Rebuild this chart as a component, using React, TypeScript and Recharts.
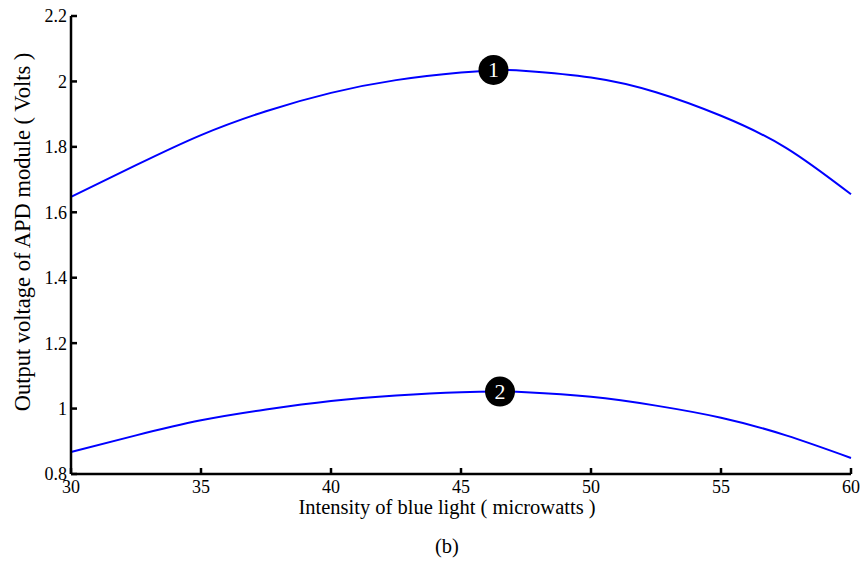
import { LineChart, Line, XAxis, YAxis, ReferenceDot, Label } from "recharts";

const intensity = [30, 32.5, 35, 37.5, 40, 42.5, 45, 46.5, 47.5, 50, 52.5, 55, 57.5, 60];
const curve1 = [1.647, 1.744, 1.836, 1.909, 1.965, 2.004, 2.027, 2.035, 2.032, 2.012, 1.967, 1.895, 1.797, 1.655];
const curve2 = [0.867, 0.918, 0.964, 0.997, 1.023, 1.04, 1.05, 1.052, 1.05, 1.036, 1.009, 0.972, 0.918, 0.849];
const xTicks = [30, 35, 40, 45, 50, 55, 60];
const yTicks = [0.8, 1, 1.2, 1.4, 1.6, 1.8, 2, 2.2];
const markers = [
  { x: 46.25, y: 2.035, label: "1" },
  { x: 46.5, y: 1.052, label: "2" },
];

const data = intensity.map((x, i) => ({ x, c1: curve1[i], c2: curve2[i] }));

const font = "'Liberation Serif', 'Times New Roman', serif";

function Marker(props: any) {
  const { cx, cy, label } = props;
  return (
    <g>
      <circle cx={cx} cy={cy} r={15} fill="#000" />
      <text x={cx} y={cy} fill="#fff" fontSize={22} fontFamily={font} textAnchor="middle" dominantBaseline="central">
        {label}
      </text>
    </g>
  );
}

export default function App() {
  return (
    <div style={{ position: "absolute", left: 0, top: 0, width: 864, height: 563, background: "#fff" }}>
      <LineChart width={864} height={563} data={data} margin={{ top: 16, right: 13, left: 0, bottom: 59 }}>
        <XAxis
          dataKey="x"
          type="number"
          domain={[30, 60]}
          ticks={xTicks}
          tickSize={-6}
          tickMargin={12}
          height={30}
          stroke="#000"
          strokeWidth={2.5}
          tick={{ fill: "#000", fontSize: 18, fontFamily: font }}
          interval={0}
        >
          <Label
            content={({ viewBox }: any) => (
              <g fontFamily={font} fill="#000" textAnchor="middle">
                <text x={viewBox.x + viewBox.width / 2 - 14} y={viewBox.y + 40} fontSize={20.5}>
                  Intensity of blue light ( microwatts )
                </text>
                <text x={viewBox.x + viewBox.width / 2 - 14} y={viewBox.y + 79} fontSize={20.5}>
                  (b)
                </text>
              </g>
            )}
          />
        </XAxis>
        <YAxis
          type="number"
          domain={[0.8, 2.2]}
          ticks={yTicks}
          tickSize={-6}
          tickMargin={10}
          width={71}
          stroke="#000"
          strokeWidth={2.5}
          tick={{ fill: "#000", fontSize: 18, fontFamily: font }}
          interval={0}
        >
          <Label
            content={({ viewBox }: any) => (
              <text
                x={22}
                y={viewBox.y + viewBox.height / 2 - 13}
                transform={`rotate(-90, 22, ${viewBox.y + viewBox.height / 2 - 13})`}
                fontFamily={font}
                fontSize={22.5}
                fill="#000"
                textAnchor="middle"
                dominantBaseline="central"
              >
                Output voltage of APD module ( Volts )
              </text>
            )}
          />
        </YAxis>
        <Line type="natural" dataKey="c1" stroke="#0000ff" strokeWidth={2} dot={false} isAnimationActive={false} />
        <Line type="natural" dataKey="c2" stroke="#0000ff" strokeWidth={2} dot={false} isAnimationActive={false} />
        {markers.map((m) => (
          <ReferenceDot key={m.label} x={m.x} y={m.y} r={15} shape={(p: any) => <Marker {...p} label={m.label} />} />
        ))}
      </LineChart>
    </div>
  );
}
